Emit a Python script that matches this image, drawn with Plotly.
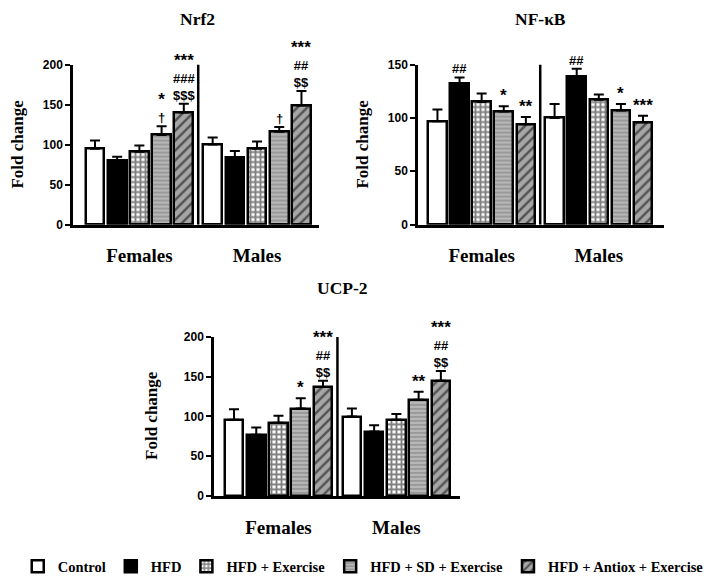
import plotly.graph_objects as go

W, H = 709, 584

groups = ["Females", "Males"]
treatments = ["Control", "HFD", "HFD + Exercise", "HFD + SD + Exercise", "HFD + Antiox + Exercise"]

# Nrf2
nrf2_f = [95, 80, 91, 112, 140]
nrf2_f_err = [10, 5, 8, 11, 11]
nrf2_m = [100, 84, 95, 116, 149]
nrf2_m_err = [9, 8, 9, 6, 18]
nrf2_f_sig = ["", "", "", "*<br>†", "***<br>###<br>$$$"]
nrf2_m_sig = ["", "", "", "†", "***<br>##<br>$$"]

# NF-kB
nfkb_f = [97, 132, 115, 106, 94]
nfkb_f_err = [11, 6, 8, 5, 7]
nfkb_m = [100, 139, 117, 107, 96]
nfkb_m_err = [13, 7, 5, 6, 6]
nfkb_f_sig = ["", "##", "", "*", "**"]
nfkb_m_sig = ["", "##", "", "*", "***"]

# UCP-2
ucp_f = [96, 77, 92, 110, 137]
ucp_f_err = [13, 9, 9, 13, 8]
ucp_m = [100, 81, 96, 121, 145]
ucp_m_err = [10, 8, 7, 10, 12]
ucp_f_sig = ["", "", "", "*", "***<br>##<br>$$"]
ucp_m_sig = ["", "", "", "**", "***<br>##<br>$$"]

styles = [
    dict(color="white", pattern=None),
    dict(color="black", pattern=None),
    dict(color="black", pattern=dict(shape="+", bgcolor="white", fgcolor="black", size=5, solidity=0.6, fillmode="overlay")),
    dict(color="#999999", pattern=dict(shape="-", bgcolor="#999999", fgcolor="#f0f0f0", size=4, solidity=0.35, fillmode="overlay")),
    dict(color="#a6a6a6", pattern=dict(shape="/", bgcolor="#a6a6a6", fgcolor="black", size=7, solidity=0.35, fillmode="overlay")),
]

MALE_OFFSET = 5.3
GAP_X = 4.65

def px_x(x):
    return x / W

def px_y(y):
    return 1 - y / H

def sig_html(sig):
    lines = []
    for ln in sig.split("<br>"):
        if ln.startswith("*"):
            lines.append('<span style="font-size:17px">' + ln + "</span>")
        else:
            lines.append(ln)
    return "<b>" + "<br>".join(lines) + "</b>"

panels = [
    dict(title="Nrf2", f=nrf2_f, fe=nrf2_f_err, m=nrf2_m, me=nrf2_m_err, fs=nrf2_f_sig, ms=nrf2_m_sig,
         xd=(73, 319), yd=(59, 223), xr=(-0.99, 10.09), yr=(0, 200), ticks=[0, 50, 100, 150, 200],
         tpos=(197, 12), ytpos=(18, 141)),
    dict(title="NF-κB", f=nfkb_f, fe=nfkb_f_err, m=nfkb_m, me=nfkb_m_err, fs=nfkb_f_sig, ms=nfkb_m_sig,
         xd=(418, 664), yd=(59, 223), xr=(-0.88, 10.25), yr=(0, 150), ticks=[0, 50, 100, 150],
         tpos=(540, 12), ytpos=(363, 141)),
    dict(title="UCP-2", f=ucp_f, fe=ucp_f_err, m=ucp_m, me=ucp_m_err, fs=ucp_f_sig, ms=ucp_m_sig,
         xd=(214, 460), yd=(338, 501), xr=(-0.9, 10.16), yr=(0, 200), ticks=[0, 50, 100, 150, 200],
         tpos=(342, 288), ytpos=(152, 419)),
]

fig = go.Figure()
annotations = []
shapes = []
serif = "Liberation Serif"
sans = "Liberation Sans"

for k, p in enumerate(panels):
    ax = "" if k == 0 else str(k + 1)
    xref, yref = "x" + ax, "y" + ax
    for i, t in enumerate(treatments):
        st = styles[i]
        marker = dict(color=st["color"], line=dict(color="black", width=2.5))
        if st["pattern"]:
            marker["pattern"] = st["pattern"]
        fig.add_trace(go.Bar(
            x=[i, MALE_OFFSET + i], y=[p["f"][i], p["m"][i]],
            width=0.84, name=t, legendgroup=t, showlegend=(k == 0),
            marker=marker,
            error_y=dict(type="data", symmetric=False, array=[p["fe"][i], p["me"][i]],
                         arrayminus=[0, 0], color="black", thickness=2, width=5),
            xaxis=xref, yaxis=yref,
        ))
        for xpos, val, err, sig in [(i, p["f"][i], p["fe"][i], p["fs"][i]),
                                    (MALE_OFFSET + i, p["m"][i], p["me"][i], p["ms"][i])]:
            if sig:
                annotations.append(dict(x=xpos, y=val + err, xref=xref, yref=yref, text=sig_html(sig),
                                        showarrow=False, yanchor="bottom", yshift=-1,
                                        font=dict(family=sans, size=13, color="black")))
    shapes.append(dict(type="line", xref=xref, yref=yref, x0=GAP_X, x1=GAP_X, y0=0, y1=p["yr"][1],
                       line=dict(color="black", width=2.5)))
    xa = dict(domain=[px_x(p["xd"][0]), px_x(p["xd"][1])], range=list(p["xr"]), showline=True,
              linecolor="black", linewidth=2.5, ticks="", tickvals=[2, MALE_OFFSET + 2], ticktext=groups,
              tickfont=dict(family=serif, size=19, color="black", weight="bold"), ticklabelstandoff=12,
              showgrid=False, zeroline=False, anchor=yref, fixedrange=True)
    ya = dict(domain=[px_y(p["yd"][1]), px_y(p["yd"][0])], range=list(p["yr"]), showline=True,
              linecolor="black", linewidth=2.5, ticks="outside", ticklen=5, tickwidth=2, tickcolor="black",
              tickvals=p["ticks"], tickfont=dict(family=sans, size=12, color="black", weight="bold"),
              showgrid=False, zeroline=False, anchor=xref)
    fig.update_layout(**{"xaxis" + ax: xa, "yaxis" + ax: ya})
    annotations.append(dict(x=px_x(p["tpos"][0]), y=px_y(p["tpos"][1]), xref="paper", yref="paper",
                            text="<b>" + p["title"] + "</b>", showarrow=False, xanchor="center", yanchor="middle",
                            font=dict(family=serif, size=17.5, color="black")))
    annotations.append(dict(x=px_x(p["ytpos"][0]), y=px_y(p["ytpos"][1]), xref="paper", yref="paper",
                            text="<b>Fold change</b>", textangle=-90, showarrow=False,
                            xanchor="center", yanchor="middle",
                            font=dict(family=serif, size=17, color="black")))

fig.update_layout(
    width=W, height=H, autosize=False,
    margin=dict(l=0, r=0, t=0, b=0),
    paper_bgcolor="white", plot_bgcolor="white",
    barmode="overlay", bargap=0,
    annotations=annotations, shapes=shapes,
    showlegend=True,
    legend=dict(orientation="h", x=0.025, xanchor="left", y=px_y(573), yanchor="middle",
                font=dict(family=serif, size=14.5, color="black", weight="bold"),
                itemwidth=30, traceorder="normal", bgcolor="rgba(0,0,0,0)", tracegroupgap=0),
)

fig.write_html("out.html")
